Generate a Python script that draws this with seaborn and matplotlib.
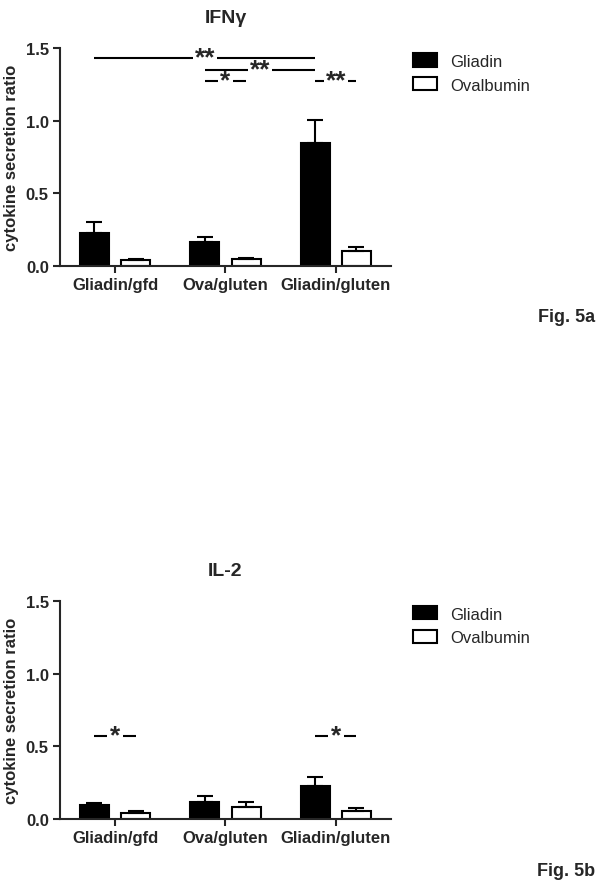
import matplotlib
matplotlib.use("Agg")
import matplotlib.pyplot as plt
import numpy as np
import pandas as pd
import seaborn as sns
from matplotlib.ticker import FormatStrFormatter

# ------------------------------------------------------------------
# Données (moyenne + SEM, barres d'erreur vers le haut)
# ------------------------------------------------------------------
groups = ["Gliadin/gfd", "Ova/gluten", "Gliadin/gluten"]
stimuli = ["Gliadin", "Ovalbumin"]

ifn_gliadin = [0.227, 0.163, 0.849]
ifn_gliadin_sem = [0.073, 0.034, 0.158]
ifn_ova = [0.041, 0.046, 0.101]
ifn_ova_sem = [0.007, 0.006, 0.032]

il2_gliadin = [0.097, 0.117, 0.228]
il2_gliadin_sem = [0.014, 0.041, 0.060]
il2_ova = [0.039, 0.085, 0.057]
il2_ova_sem = [0.014, 0.030, 0.016]

# (groupe, stimulus) départ, (groupe, stimulus) arrivée, hauteur, label
ifn_signif = [((0, 0), (2, 0), 1.43, "**"),
              ((1, 0), (2, 0), 1.35, "**"),
              ((1, 0), (1, 1), 1.27, "*"),
              ((2, 0), (2, 1), 1.27, "**")]
il2_signif = [((0, 0), (0, 1), 0.57, "*"),
              ((2, 0), (2, 1), 0.57, "*")]

y_ticks = [0.0, 0.5, 1.0, 1.5]

sns.set_style("ticks")
plt.rcParams["font.family"] = ["Liberation Sans", "DejaVu Sans"]

STAR_FS = 19


def draw_panel(ax, title, gliadin, gliadin_sem, ova, ova_sem, signif):
    df = pd.DataFrame({
        "group": groups * 2,
        "stimulus": [stimuli[0]] * len(groups) + [stimuli[1]] * len(groups),
        "value": gliadin + ova,
    })
    sns.barplot(data=df, x="group", y="value", hue="stimulus",
                order=groups, hue_order=stimuli,
                palette={"Gliadin": "black", "Ovalbumin": "white"},
                edgecolor="black", linewidth=1.5, width=0.75, gap=0.3,
                errorbar=None, legend=False, ax=ax)

    # barres d'erreur (SEM, vers le haut uniquement)
    centers = []
    for cont, sem in zip(ax.containers, [gliadin_sem, ova_sem]):
        xs = [b.get_x() + b.get_width() / 2 for b in cont]
        tops = [b.get_height() for b in cont]
        centers.append(xs)
        ax.errorbar(xs, tops, yerr=[np.zeros(len(sem)), sem], fmt="none",
                    ecolor="black", elinewidth=1.5, capsize=6, capthick=1.5)

    # traits de significativité
    for (ga, sa), (gb, sb), y, label in signif:
        x0, x1 = centers[sa][ga], centers[sb][gb]
        xm = (x0 + x1) / 2
        half_gap = 0.03 + 0.04 * len(label)
        ax.plot([x0, xm - half_gap], [y, y], color="black", lw=1.5, solid_capstyle="butt")
        ax.plot([xm + half_gap, x1], [y, y], color="black", lw=1.5, solid_capstyle="butt")
        ax.annotate(label, (xm, y), xytext=(0, -0.23 * STAR_FS), textcoords="offset points",
                    ha="center", va="baseline", fontsize=STAR_FS, fontweight="bold")

    ax.set_xlim(-0.5, 2.5)
    ax.set_ylim(0, 1.5)
    ax.set_yticks(y_ticks)
    ax.yaxis.set_major_formatter(FormatStrFormatter("%.1f"))
    ax.set_xlabel("")
    ax.set_ylabel("cytokine secretion ratio", fontsize=12, fontweight="bold", labelpad=5)
    ax.set_title(title, fontsize=14, fontweight="bold", pad=18.5)
    sns.despine(ax=ax)
    for side in ["left", "bottom"]:
        ax.spines[side].set_linewidth(1.5)
    ax.tick_params(width=1.5, length=5, labelsize=12, pad=3)
    for lbl in ax.get_xticklabels() + ax.get_yticklabels():
        lbl.set_fontweight("bold")

    ax.legend(ax.containers, stimuli, loc="upper left", bbox_to_anchor=(1.066, 0.975),
              frameon=False, fontsize=12, handlelength=1.45, handleheight=0.85,
              handletextpad=0.8, labelspacing=0.5, borderaxespad=0, borderpad=0)


def main():
    fig = plt.figure(figsize=(6.01, 8.87), dpi=100)
    ax_top = fig.add_axes([0.0998, 0.699, 0.5507, 0.2458])
    ax_bot = fig.add_axes([0.0998, 0.0755, 0.5507, 0.2461])

    draw_panel(ax_top, "IFNγ", ifn_gliadin, ifn_gliadin_sem, ifn_ova, ifn_ova_sem, ifn_signif)
    draw_panel(ax_bot, "IL-2", il2_gliadin, il2_gliadin_sem, il2_ova, il2_ova_sem, il2_signif)

    fig.text(0.99, 1 - 318 / 887, "Fig. 5a", ha="right", va="center", fontsize=13, fontweight="bold")
    fig.text(0.99, 1 - 872 / 887, "Fig. 5b", ha="right", va="center", fontsize=13, fontweight="bold")

    fig.savefig("out.png", dpi=100)
    plt.close(fig)


if __name__ == "__main__":
    main()
